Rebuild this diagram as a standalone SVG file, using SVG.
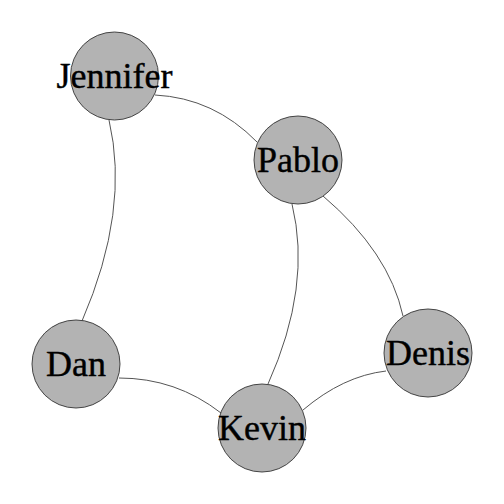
<svg xmlns="http://www.w3.org/2000/svg" width="504" height="504" viewBox="0 0 504 504">
<style>
.e{fill:none;stroke:#555;stroke-width:1}
.n{fill:#b3b3b3;stroke:#333;stroke-width:0.9}
.t{font-size:36px;fill:#000;stroke:#000;stroke-width:0.4;text-anchor:middle}
</style>
<rect width="504" height="504" fill="#fff"/>
<g id="edges">
<path class="e" d="M155,95 Q214,98 257,142"/>
<path class="e" d="M109,120 Q130,210 82,321"/>
<path class="e" d="M292,204 Q312,286 268,384"/>
<path class="e" d="M323,196 Q389,252 403,316"/>
<path class="e" d="M119,378 Q176,378 221,413"/>
<path class="e" d="M303,410 Q343,376 386,371"/>
</g>
<g font-family="Liberation Serif, Times New Roman, serif">
<g id="Jennifer"><circle class="n" cx="114.5" cy="76" r="44"/><text class="t" x="114.5" y="88">Jennifer</text></g>
<g id="Pablo"><circle class="n" cx="298" cy="160" r="44"/><text class="t" x="298" y="172">Pablo</text></g>
<g id="Dan"><circle class="n" cx="76" cy="364" r="44"/><text class="t" x="76" y="376">Dan</text></g>
<g id="Kevin"><circle class="n" cx="262" cy="428" r="44"/><text class="t" x="262" y="440">Kevin</text></g>
<g id="Denis"><circle class="n" cx="428" cy="353" r="44"/><text class="t" x="428" y="365">Denis</text></g>
</g>
</svg>
